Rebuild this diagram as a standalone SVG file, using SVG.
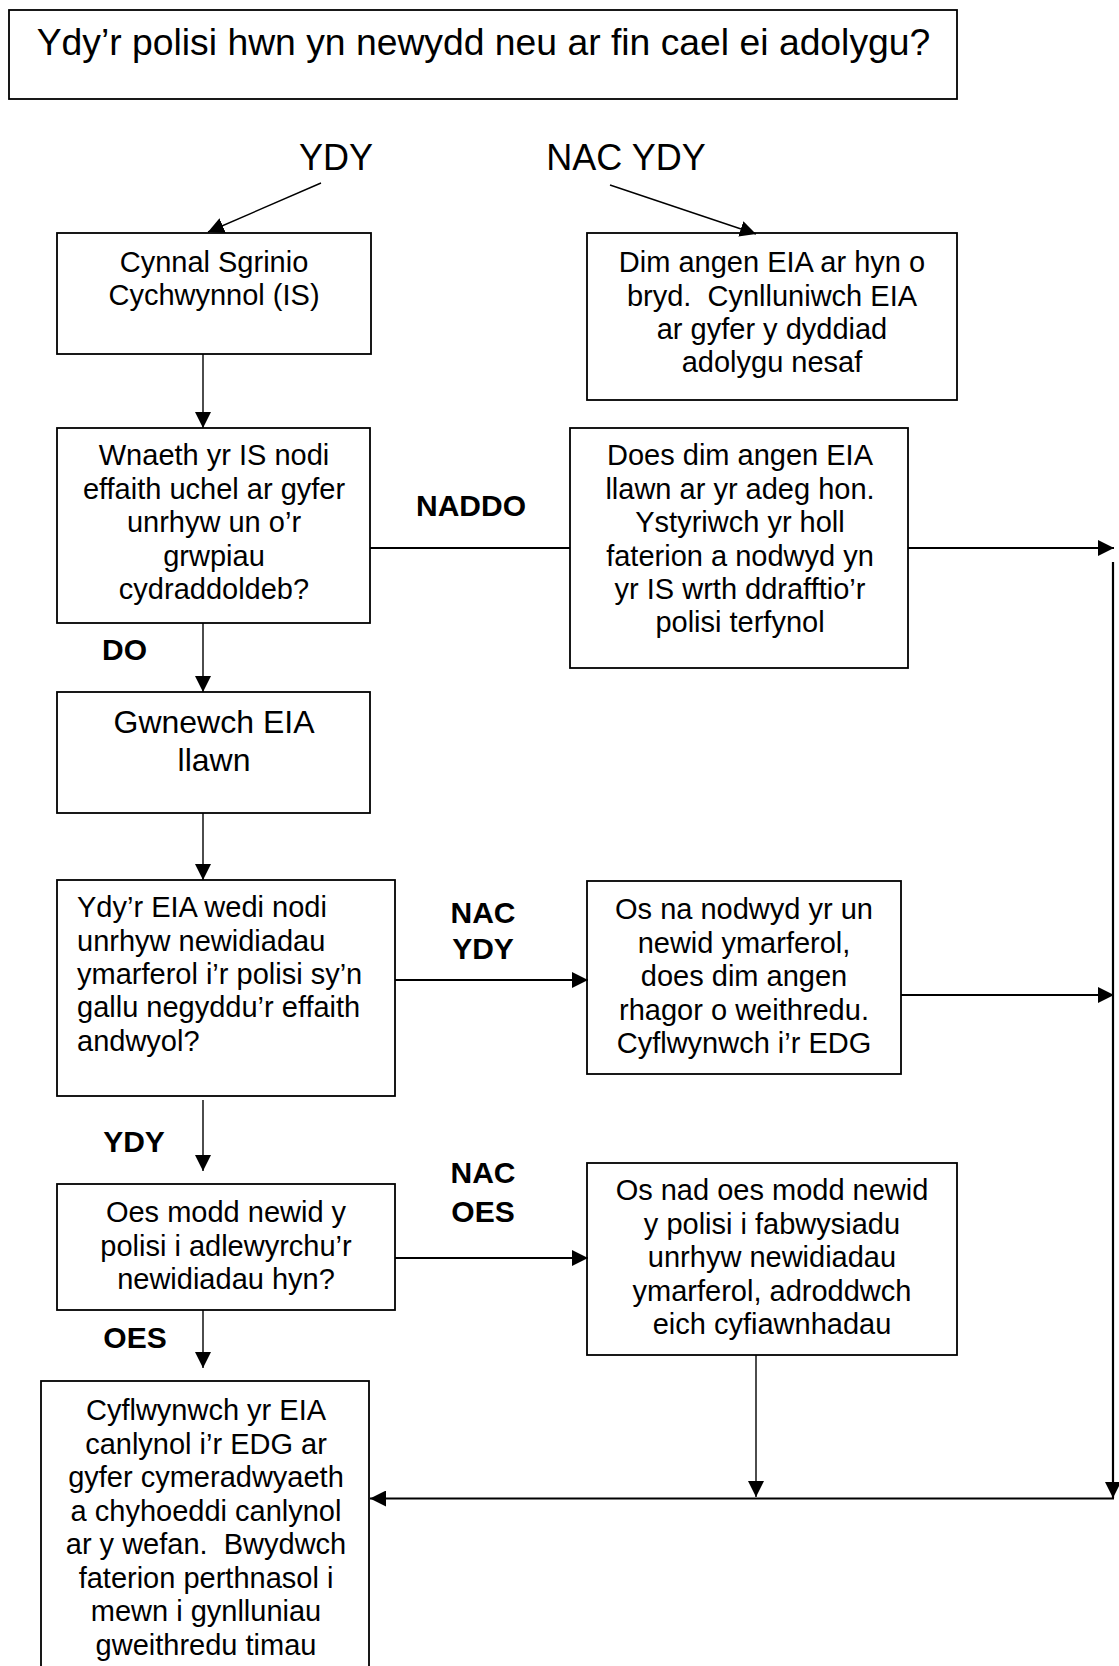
<svg xmlns="http://www.w3.org/2000/svg" width="1119" height="1666" viewBox="0 0 1119 1666">
<style>
text{font-family:"Liberation Sans",Arial,sans-serif;fill:#000}
.t{font-size:29px;text-anchor:middle}
.l{font-size:29px}
.b{font-size:30px;font-weight:bold;text-anchor:middle}
.h{font-size:36px;text-anchor:middle}
.box{fill:#fff;stroke:#000;stroke-width:1.8}
.c line{stroke:#000;stroke-width:1.4}
.c line.k{stroke-width:2.2}
</style>
<defs>
<marker id="a" markerUnits="userSpaceOnUse" markerWidth="16" markerHeight="16" viewBox="0 0 16 16" refX="16" refY="8" orient="auto">
<path d="M0,0 L16,8 L0,16 Z" fill="#000"/>
</marker>
</defs>
<rect width="1119" height="1666" fill="#fff"/>
<g id="n-title">
<rect class="box" x="9" y="10" width="948" height="89"/>
<text class="h" x="483.5" y="55" style="font-size:37.3px">Ydy’r polisi hwn yn newydd neu ar fin cael ei adolygu?</text>
</g>
<g id="lbl-ydy"><text class="h" x="336" y="170">YDY</text></g>
<g id="lbl-nacydy"><text class="h" x="626" y="170">NAC YDY</text></g>
<g id="n-cynnal">
<rect class="box" x="57" y="233" width="314" height="121"/>
<text class="t" x="214" y="271.7">Cynnal Sgrinio</text>
<text class="t" x="214" y="305">Cychwynnol (IS)</text>
</g>
<g id="n-dim">
<rect class="box" x="587" y="233" width="370" height="167"/>
<text class="t" x="772" y="272">Dim angen EIA ar hyn o</text>
<text class="t" x="772" y="305.5" xml:space="preserve">bryd.  Cynlluniwch EIA</text>
<text class="t" x="772" y="339">ar gyfer y dyddiad</text>
<text class="t" x="772" y="372">adolygu nesaf</text>
</g>
<g id="n-wnaeth">
<rect class="box" x="57" y="428" width="313" height="195"/>
<text class="t" x="214" y="465">Wnaeth yr IS nodi</text>
<text class="t" x="214" y="499">effaith uchel ar gyfer</text>
<text class="t" x="214" y="532">unrhyw un o’r</text>
<text class="t" x="214" y="566">grwpiau</text>
<text class="t" x="214" y="599">cydraddoldeb?</text>
</g>
<g id="n-does">
<rect class="box" x="570" y="428" width="338" height="240"/>
<text class="t" x="740" y="465">Does dim angen EIA</text>
<text class="t" x="740" y="499">llawn ar yr adeg hon.</text>
<text class="t" x="740" y="532">Ystyriwch yr holl</text>
<text class="t" x="740" y="566">faterion a nodwyd yn</text>
<text class="t" x="740" y="599">yr IS wrth ddrafftio’r</text>
<text class="t" x="740" y="632">polisi terfynol</text>
</g>
<g id="lbl-naddo"><text class="b" x="471" y="515.5">NADDO</text></g>
<g id="lbl-do"><text class="b" x="124.5" y="660">DO</text></g>
<g id="n-gwnewch">
<rect class="box" x="57" y="692" width="313" height="121"/>
<text class="t" x="214" y="733.3" style="font-size:32px">Gwnewch EIA</text>
<text class="t" x="214" y="771" style="font-size:32px">llawn</text>
</g>
<g id="n-ydyr">
<rect class="box" x="57" y="880" width="338" height="216"/>
<text class="l" x="77" y="917">Ydy’r EIA wedi nodi</text>
<text class="l" x="77" y="951">unrhyw newidiadau</text>
<text class="l" x="77" y="984">ymarferol i’r polisi sy’n</text>
<text class="l" x="77" y="1017">gallu negyddu’r effaith</text>
<text class="l" x="77" y="1051">andwyol?</text>
</g>
<g id="lbl-nacydy2">
<text class="b" x="483" y="923">NAC</text>
<text class="b" x="483" y="959">YDY</text>
</g>
<g id="n-osna">
<rect class="box" x="587" y="881" width="314" height="193"/>
<text class="t" x="744" y="919">Os na nodwyd yr un</text>
<text class="t" x="744" y="953">newid ymarferol,</text>
<text class="t" x="744" y="986">does dim angen</text>
<text class="t" x="744" y="1020">rhagor o weithredu.</text>
<text class="t" x="744" y="1053">Cyflwynwch i’r EDG</text>
</g>
<g id="lbl-ydy2"><text class="b" x="134" y="1152">YDY</text></g>
<g id="n-oes">
<rect class="box" x="57" y="1184" width="338" height="126"/>
<text class="t" x="226" y="1222">Oes modd newid y</text>
<text class="t" x="226" y="1255.5">polisi i adlewyrchu’r</text>
<text class="t" x="226" y="1289">newidiadau hyn?</text>
</g>
<g id="lbl-nacoes">
<text class="b" x="483" y="1183">NAC</text>
<text class="b" x="483" y="1222">OES</text>
</g>
<g id="n-osnad">
<rect class="box" x="587" y="1163" width="370" height="192"/>
<text class="t" x="772" y="1200">Os nad oes modd newid</text>
<text class="t" x="772" y="1233.5">y polisi i fabwysiadu</text>
<text class="t" x="772" y="1267">unrhyw newidiadau</text>
<text class="t" x="772" y="1300.5">ymarferol, adroddwch</text>
<text class="t" x="772" y="1334">eich cyfiawnhadau</text>
</g>
<g id="lbl-oes"><text class="b" x="135" y="1348">OES</text></g>
<g id="n-cyflwynwch">
<rect class="box" x="41" y="1381" width="328" height="300"/>
<text class="t" x="206" y="1420">Cyflwynwch yr EIA</text>
<text class="t" x="206" y="1454">canlynol i’r EDG ar</text>
<text class="t" x="206" y="1487">gyfer cymeradwyaeth</text>
<text class="t" x="206" y="1521">a chyhoeddi canlynol</text>
<text class="t" x="206" y="1554" xml:space="preserve">ar y wefan.  Bwydwch</text>
<text class="t" x="206" y="1588">faterion perthnasol i</text>
<text class="t" x="206" y="1621">mewn i gynlluniau</text>
<text class="t" x="206" y="1655">gweithredu timau</text>
</g>
<g id="connectors" class="c">
<line x1="321" y1="183" x2="208" y2="232" marker-end="url(#a)"/>
<line x1="610" y1="185" x2="756" y2="234" marker-end="url(#a)"/>
<line x1="203" y1="354" x2="203" y2="428" marker-end="url(#a)"/>
<line class="k" x1="370" y1="548" x2="570" y2="548"/>
<line class="k" x1="908" y1="548" x2="1114" y2="548" marker-end="url(#a)"/>
<line class="k" x1="1113" y1="562" x2="1113" y2="1498" marker-end="url(#a)"/>
<line x1="203" y1="623" x2="203" y2="692" marker-end="url(#a)"/>
<line x1="203" y1="813" x2="203" y2="880" marker-end="url(#a)"/>
<line class="k" x1="395" y1="980" x2="588" y2="980" marker-end="url(#a)"/>
<line class="k" x1="901" y1="995" x2="1114" y2="995" marker-end="url(#a)"/>
<line x1="203" y1="1100" x2="203" y2="1171" marker-end="url(#a)"/>
<line class="k" x1="395" y1="1258" x2="588" y2="1258" marker-end="url(#a)"/>
<line x1="203" y1="1310" x2="203" y2="1368" marker-end="url(#a)"/>
<line x1="756" y1="1355" x2="756" y2="1497" marker-end="url(#a)"/>
<line class="k" x1="1114" y1="1498.5" x2="370" y2="1498.5" marker-end="url(#a)"/>
</g>
</svg>
